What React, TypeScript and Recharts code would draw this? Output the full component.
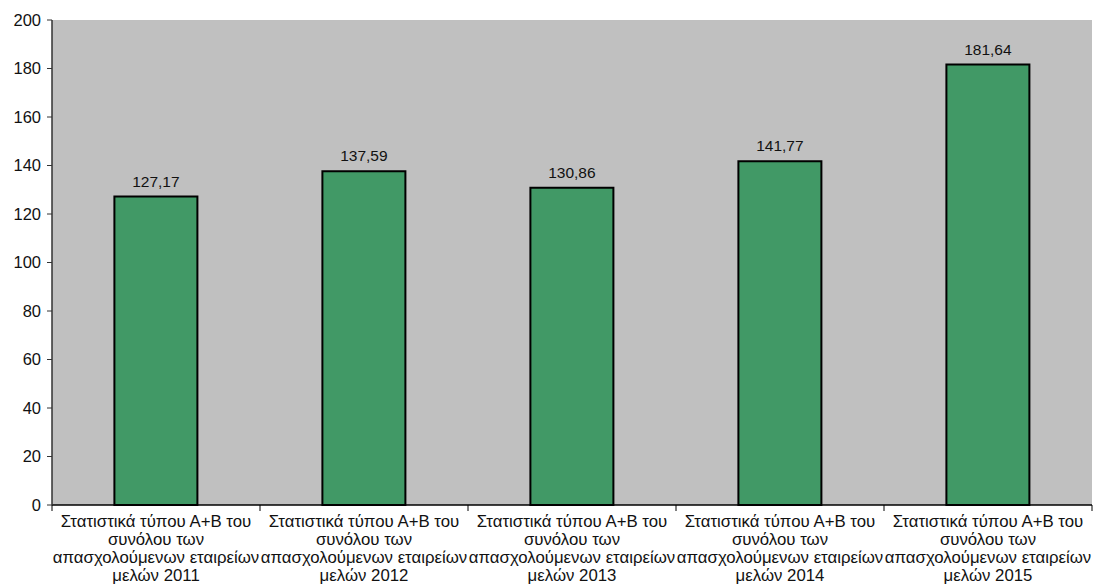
import { BarChart, Bar, XAxis, YAxis, CartesianGrid, LabelList } from "recharts";

const years = ["2011", "2012", "2013", "2014", "2015"];
const values = [127.17, 137.59, 130.86, 141.77, 181.64];
const yTicks = [0, 20, 40, 60, 80, 100, 120, 140, 160, 180, 200];
const labelLines = ["Στατιστικά τύπου Α+Β του", "συνόλου των", "απασχολούμενων εταιρείων"];

const data = years.map((y, i) => ({ name: y, value: values[i] }));

const font = "'Liberation Sans', Arial, sans-serif";

function CategoryTick(props: any) {
  const { x, y, payload, index } = props;
  const off = payload.offset || 0;
  const lines = [...labelLines, "μελών " + payload.value];
  return (
    <g>
      <line x1={x - off} x2={x - off} y1={y - 8} y2={y - 2} stroke="#000" />
      {index === years.length - 1 && (
        <line x1={x + off} x2={x + off} y1={y - 8} y2={y - 2} stroke="#000" />
      )}
      <text x={x} y={y + 14} textAnchor="middle" fontSize={16.8} fill="#111" fontFamily={font}>
        {lines.map((l, i) => (
          <tspan key={i} x={x} dy={i === 0 ? 0 : 18}>
            {l}
          </tspan>
        ))}
      </text>
    </g>
  );
}

export default function App() {
  return (
    <div style={{ position: "absolute", left: 0, top: 0, background: "#fff" }}>
      <BarChart
        width={1095}
        height={584}
        data={data}
        margin={{ top: 20, right: 3, left: 0, bottom: 0 }}
        barCategoryGap="30%"
      >
        <CartesianGrid horizontal={false} vertical={false} fill="#c0c0c0" />
        <XAxis
          dataKey="name"
          height={79}
          axisLine={{ stroke: "#000", strokeWidth: 1.5 }}
          tickLine={false}
          interval={0}
          tick={<CategoryTick />}
        />
        <XAxis xAxisId="top" dataKey="name" orientation="top" height={0} tick={false} tickLine={false} axisLine={{ stroke: "#8c8c8c", strokeWidth: 1.5 }} />
        <YAxis
          width={52}
          domain={[0, 200]}
          ticks={yTicks}
          interval={0}
          tickSize={5}
          tickMargin={6}
          axisLine={{ stroke: "#333", strokeWidth: 1.5 }}
          tickLine={{ stroke: "#333" }}
          tick={{ fontSize: 16.5, fill: "#111", fontFamily: font }}
        />
        <YAxis yAxisId="right" orientation="right" width={0} domain={[0, 200]} tick={false} tickLine={false} axisLine={{ stroke: "#8c8c8c", strokeWidth: 1.5 }} />
        <Bar dataKey="value" fill="#419966" stroke="#000" strokeWidth={2} isAnimationActive={false}>
          <LabelList
            dataKey="value"
            position="top"
            offset={10}
            formatter={(v: any) => Number(v).toFixed(2).replace(".", ",")}
            style={{ fontSize: 15.5, fill: "#111", fontFamily: font }}
          />
        </Bar>
      </BarChart>
    </div>
  );
}
